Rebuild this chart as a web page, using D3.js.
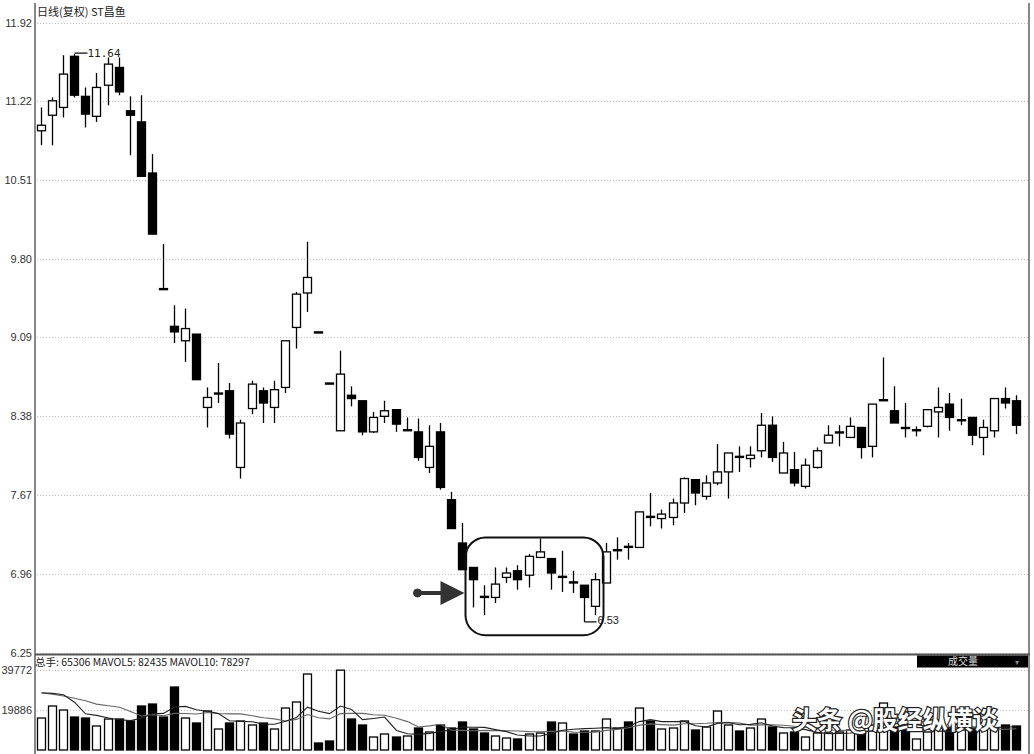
<!DOCTYPE html>
<html><head><meta charset="utf-8">
<script src="https://cdn.jsdelivr.net/npm/d3@7/dist/d3.min.js"></script>
<style>html,body{margin:0;padding:0;background:#fff;}svg{display:block;}</style>
</head><body><svg id="c" width="1034" height="754"></svg>
<script>
// ---- data ----
const title = "日线(复权) ST昌鱼";
const priceTicks = [11.92, 11.22, 10.51, 9.80, 9.09, 8.38, 7.67, 6.96, 6.25];
const volumeTicks = [39772, 19886];
const volumeHeader = "总手: 65306 MAVOL5: 82435 MAVOL10: 78297";
const volumeLabel = "成交量";
const watermark = "头条 @股经纵横谈";
const opens = [10.95,11.09,11.16,11.62,11.26,11.08,11.36,11.52,11.13,11.03,10.57,9.53,9.19,9.06,9.12,8.46,8.58,8.61,7.92,8.45,8.61,8.46,8.64,9.18,9.49,9.14,8.68,8.25,8.57,8.52,8.24,8.38,8.44,8.25,8.24,7.92,8.24,7.63,7.24,7.02,6.76,6.75,6.93,6.99,6.95,7.11,7.10,6.93,6.89,6.86,6.67,6.88,7.17,7.21,7.20,7.48,7.46,7.47,7.60,7.81,7.66,7.78,7.88,8.02,8.00,8.07,8.30,7.87,7.90,7.75,7.92,8.14,8.23,8.19,8.28,8.11,8.52,8.43,8.28,8.25,8.29,8.42,8.49,8.34,8.37,8.19,8.25,8.54,8.52];
const highs = [11.16,11.25,11.63,11.64,11.34,11.47,11.61,11.61,11.26,11.27,10.74,9.93,9.38,9.35,9.12,8.64,8.86,8.68,8.35,8.70,8.64,8.70,9.06,9.50,9.95,9.14,8.68,8.97,8.65,8.52,8.42,8.52,8.44,8.37,8.36,8.30,8.32,7.70,7.42,7.02,6.86,7.02,7.02,7.04,7.14,7.28,7.10,7.17,6.99,6.86,6.97,7.24,7.29,7.24,7.52,7.69,7.54,7.64,7.83,7.81,7.85,8.13,8.05,8.11,8.11,8.41,8.38,8.15,8.06,8.00,8.10,8.30,8.30,8.37,8.28,8.49,8.91,8.65,8.50,8.29,8.44,8.64,8.59,8.54,8.37,8.35,8.54,8.64,8.57];
const lows = [10.82,10.82,11.07,11.25,10.98,11.03,11.18,11.27,10.73,10.54,10.02,9.52,9.04,8.87,8.71,8.28,8.50,8.18,7.82,8.40,8.32,8.32,8.59,8.99,9.32,9.13,8.67,8.25,8.47,8.21,8.23,8.32,8.24,8.25,7.98,7.87,7.72,7.37,7.00,6.66,6.59,6.70,6.88,6.82,6.84,7.11,6.82,6.80,6.79,6.53,6.59,6.88,7.09,7.09,7.20,7.39,7.37,7.40,7.51,7.58,7.63,7.76,7.64,7.88,7.92,8.01,7.97,7.87,7.75,7.73,7.91,8.14,8.11,8.19,8.00,8.01,8.52,8.32,8.19,8.20,8.28,8.19,8.25,8.30,8.12,8.03,8.19,8.45,8.22];
const closes = [11.00,11.22,11.46,11.27,11.10,11.34,11.55,11.30,11.09,10.54,10.02,9.52,9.14,9.17,8.71,8.55,8.59,8.22,8.32,8.67,8.50,8.62,9.06,9.48,9.63,9.13,8.67,8.76,8.54,8.24,8.37,8.43,8.31,8.26,8.01,8.11,7.74,7.37,7.00,6.91,6.75,6.87,6.97,6.91,7.12,7.16,6.97,6.94,6.88,6.75,6.91,7.16,7.18,7.20,7.52,7.47,7.50,7.60,7.82,7.69,7.78,7.88,8.05,8.01,8.03,8.30,8.01,8.05,7.78,7.94,8.07,8.21,8.24,8.29,8.10,8.49,8.53,8.32,8.27,8.26,8.44,8.46,8.37,8.35,8.21,8.28,8.54,8.50,8.30];
const volumes = [15900,21870,19880,16400,15900,11930,15410,15410,14410,21870,22860,16400,31310,15900,13420,19380,10440,13420,14410,12430,13420,10440,20870,23860,37770,3480,4470,39700,15410,12430,6460,7950,6460,6960,10930,8950,12430,10930,13920,10440,8450,6960,5960,5470,7950,8450,13920,13420,7950,9440,9440,15410,10930,13920,20870,14410,10440,10930,14410,9940,11430,19380,12430,9440,10930,15410,11430,8450,8950,6460,8450,8450,8950,9940,8450,12430,23360,11430,9940,5470,8950,10930,10930,11430,10930,11430,10930,12430,11930];
// estimated volumes of the days just before the visible range (feed the moving averages)
const priorVolumes = [28300,28300,28300,28300,28300,23400,23400,34800,44700];
// highlighted consolidation zone (day index range and price range)
const boxDays = [39, 50];
const boxPrices = [7.29, 6.41];
const arrowPrice = 6.79;

// ---- layout ----
const svg = d3.select("#c");
const n = opens.length;
const left = 35.5, right = 1021.5, plotRight = 1029;
const x = d3.scaleBand().domain(d3.range(n)).range([left, right]);
const cx = i => Math.round(x(i) + x.bandwidth() / 2) + 0.5;
const y = d3.scaleLinear().domain([6.25, 11.92]).range([653, 23]);
const yv = d3.scaleLinear().domain([0, 39772]).range([750, 670]);
const bw = 8;

// grid lines
const grid = svg.append("g");
priceTicks.forEach(t => {
  grid.append("line").attr("x1", 37).attr("x2", plotRight - 1)
    .attr("y1", Math.round(y(t)) + 0.5).attr("y2", Math.round(y(t)) + 0.5)
    .attr("stroke", "#bdbdbd").attr("stroke-dasharray", "1,2");
});
volumeTicks.forEach(t => {
  grid.append("line").attr("x1", 37).attr("x2", plotRight - 1)
    .attr("y1", Math.round(yv(t)) + 0.5).attr("y2", Math.round(yv(t)) + 0.5)
    .attr("stroke", "#bdbdbd").attr("stroke-dasharray", "1,2");
});

// y axis labels
const lab = svg.append("g").attr("font-family", "Liberation Sans, Arial, sans-serif")
  .attr("font-size", 11).attr("fill", "#333").attr("text-anchor", "end");
priceTicks.forEach(t => {
  lab.append("text").attr("x", 32).attr("y", y(t) + 4).text(t.toFixed(2));
});
volumeTicks.forEach(t => {
  lab.append("text").attr("x", 32).attr("y", yv(t) + 4).text(t);
});

// frame
svg.append("line").attr("x1", 35).attr("x2", 35).attr("y1", 3).attr("y2", 754).attr("stroke", "#888").attr("stroke-width", 2);
svg.append("line").attr("x1", plotRight).attr("x2", plotRight).attr("y1", 3).attr("y2", 754).attr("stroke", "#888").attr("stroke-width", 2);
svg.append("line").attr("x1", 35).attr("x2", plotRight + 1).attr("y1", 654.5).attr("y2", 654.5).attr("stroke", "#555").attr("stroke-width", 2);

// title
svg.append("text").attr("x", 37).attr("y", 16).attr("font-family", "Noto Sans CJK SC, sans-serif")
  .attr("font-size", 11).attr("fill", "#222").text(title);

// candles
const cg = svg.append("g");
for (let i = 0; i < n; i++) {
  const o = opens[i], c = closes[i], up = c >= o;
  const X = cx(i);
  cg.append("line").attr("x1", X).attr("x2", X).attr("y1", y(highs[i])).attr("y2", y(lows[i]))
    .attr("stroke", "#000").attr("stroke-width", 1.3);
  const top = y(Math.max(o, c)), bot = y(Math.min(o, c));
  cg.append("rect").attr("x", X - bw / 2).attr("y", top).attr("width", bw)
    .attr("height", Math.max(1, bot - top))
    .attr("fill", up ? "#fff" : "#000").attr("stroke", "#000").attr("stroke-width", 1.3);
}

// max / min annotations
const mono = "DejaVu Sans Mono, monospace";
const iMax = d3.maxIndex(highs), iMin = d3.minIndex(lows);
svg.append("line").attr("x1", cx(iMax)).attr("x2", cx(iMax) + 13).attr("y1", y(highs[iMax]) - 1).attr("y2", y(highs[iMax]) - 1).attr("stroke", "#000").attr("stroke-width", 1.2);
svg.append("text").attr("x", cx(iMax) + 13).attr("y", y(highs[iMax]) + 3).attr("font-family", mono)
  .attr("font-size", 11).attr("fill", "#222").text(highs[iMax].toFixed(2));
svg.append("line").attr("x1", cx(iMin)).attr("x2", cx(iMin) + 12).attr("y1", y(lows[iMin])).attr("y2", y(lows[iMin])).attr("stroke", "#000").attr("stroke-width", 1.2);
svg.append("text").attr("x", cx(iMin) + 13).attr("y", y(lows[iMin]) + 2).attr("font-family", "Liberation Sans, Arial, sans-serif")
  .attr("font-size", 11).attr("fill", "#222").text(lows[iMin].toFixed(2));

// highlight box
const bx0 = cx(boxDays[0]) - 8, bx1 = cx(boxDays[1]) + 8;
svg.append("rect").attr("x", bx0).attr("y", y(boxPrices[0])).attr("width", bx1 - bx0)
  .attr("height", y(boxPrices[1]) - y(boxPrices[0])).attr("rx", 20).attr("ry", 20)
  .attr("fill", "none").attr("stroke", "#111").attr("stroke-width", 2);

// arrow pointing at the box
const ay = y(arrowPrice);
const arrow = svg.append("g").attr("fill", "#333").attr("stroke", "#333");
arrow.append("circle").attr("cx", bx0 - 48).attr("cy", ay).attr("r", 4);
arrow.append("line").attr("x1", bx0 - 48).attr("x2", bx0 - 22).attr("y1", ay).attr("y2", ay).attr("stroke-width", 4);
arrow.append("path").attr("d", `M${bx0 - 25},${ay - 12} L${bx0 - 1},${ay} L${bx0 - 25},${ay + 12} Z`).attr("stroke", "none");

// volume header
svg.append("text").attr("x", 35).attr("y", 666).attr("font-family", "Noto Sans CJK SC, Liberation Sans, sans-serif")
  .attr("font-size", 10.5).attr("fill", "#222").text(volumeHeader);
svg.append("rect").attr("x", 917).attr("y", 655.5).attr("width", 111).attr("height", 12).attr("fill", "#000");
svg.append("text").attr("x", 963).attr("y", 665).attr("text-anchor", "middle").attr("font-family", "Noto Sans CJK SC, sans-serif")
  .attr("font-size", 10).attr("fill", "#ddd").text(volumeLabel);
svg.append("text").attr("x", 1017).attr("y", 665).attr("text-anchor", "middle").attr("font-family", "DejaVu Sans, sans-serif")
  .attr("font-size", 8).attr("fill", "#888").text("▾");

// volume bars
const vg = svg.append("g");
for (let i = 0; i < n; i++) {
  const up = closes[i] >= opens[i];
  const X = cx(i);
  vg.append("rect").attr("x", X - bw / 2).attr("y", yv(volumes[i])).attr("width", bw)
    .attr("height", yv(0) - yv(volumes[i]))
    .attr("fill", up ? "#fff" : "#000").attr("stroke", "#000").attr("stroke-width", 1.3);
}

// volume moving averages
const allVol = priorVolumes.concat(volumes);
const ma = k => volumes.map((v, i) => {
  const j = i + priorVolumes.length;
  return d3.mean(allVol.slice(j - k + 1, j + 1));
});
const line = d3.line().x((d, i) => cx(i)).y(d => yv(d));
svg.append("path").attr("d", line(ma(10))).attr("fill", "none").attr("stroke", "#666").attr("stroke-width", 1.1);
svg.append("path").attr("d", line(ma(5))).attr("fill", "none").attr("stroke", "#222").attr("stroke-width", 1.1);

// watermark
svg.append("text").attr("x", 792).attr("y", 729).attr("font-family", "Noto Sans CJK SC, sans-serif")
  .attr("font-size", 25).attr("font-weight", 700).attr("fill", "#fff").attr("stroke", "#222").attr("stroke-width", 2.4)
  .attr("paint-order", "stroke").text(watermark);
</script></body></html>
